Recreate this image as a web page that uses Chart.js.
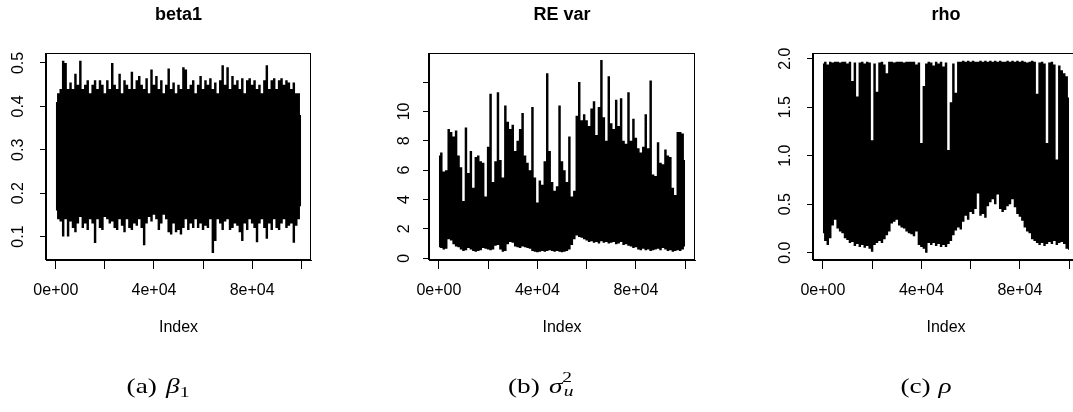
<!DOCTYPE html>
<html><head><meta charset="utf-8">
<script src="https://cdn.jsdelivr.net/npm/chart.js@4"></script>
<style>
html,body{margin:0;padding:0;background:#fff;overflow:hidden;width:1073px;height:412px;position:relative;}
canvas{position:absolute;top:0;}
.cap{position:absolute;top:376px;font-family:"Liberation Serif","Times New Roman",serif;font-size:21px;line-height:21px;color:#000;white-space:nowrap;transform:translateX(-50%) scaleX(1.3);}
.cap i{font-style:italic;}
.sub{font-size:15px;position:relative;top:4px;}
.ss{display:inline-block;position:relative;width:9px;height:1px;}
.ss span{position:absolute;left:0;font-size:15px;line-height:15px;}
</style></head><body>
<canvas id="c1" width="357" height="412" style="left:0px"></canvas>
<canvas id="c2" width="357" height="412" style="left:383px"></canvas>
<canvas id="c3" width="357" height="412" style="left:767px"></canvas>
<div class="cap" style="left:158px">(a)<span style="margin-left:7px"><i>β</i><span class="sub">1</span></span></div>
<div class="cap" style="left:541px">(b)<span style="margin-left:7px"><i>σ</i><span class="ss"><span style="top:-22px">2</span><span style="top:-8px;left:1px"><i>u</i></span></span></span></div>
<div class="cap" style="left:926px">(c)<span style="margin-left:6px"><i>ρ</i></span></div>
<script>
// iteration index of each envelope sample (every 1000 iterations)
const iterations = Array.from({length: 101}, (_, k) => k * 1000);

const xTickValues = [0, 20000, 40000, 60000, 80000, 100000];
const xTickLabels = ['0e+00', '', '4e+04', '', '8e+04', ''];

const titles = ['beta1', 'RE var', 'rho'];

// beta1: upper / lower envelope of trace
const beta1Hi = [0.41,0.43,0.44,0.505,0.50,0.44,0.455,0.44,0.475,0.45,
 0.505,0.44,0.45,0.46,0.43,0.45,0.46,0.44,0.46,0.45,
 0.43,0.46,0.44,0.50,0.45,0.44,0.475,0.43,0.46,0.45,
 0.44,0.48,0.44,0.46,0.47,0.45,0.44,0.465,0.43,0.485,
 0.45,0.47,0.44,0.46,0.43,0.45,0.487,0.44,0.455,0.43,
 0.45,0.44,0.49,0.485,0.44,0.45,0.46,0.43,0.45,0.47,
 0.44,0.46,0.45,0.465,0.44,0.455,0.43,0.46,0.495,0.45,
 0.49,0.44,0.47,0.45,0.46,0.44,0.465,0.43,0.46,0.465,
 0.45,0.46,0.44,0.45,0.43,0.46,0.495,0.44,0.46,0.465,
 0.44,0.46,0.465,0.45,0.46,0.455,0.44,0.455,0.43,0.43,
 0.38];
const beta1Lo = [0.16,0.14,0.135,0.10,0.14,0.10,0.135,0.12,0.11,0.13,
 0.145,0.12,0.13,0.115,0.14,0.13,0.085,0.14,0.12,0.115,
 0.145,0.14,0.13,0.135,0.12,0.115,0.14,0.125,0.11,0.14,
 0.12,0.115,0.13,0.125,0.14,0.12,0.08,0.13,0.145,0.135,
 0.15,0.14,0.115,0.13,0.15,0.14,0.11,0.105,0.13,0.11,
 0.115,0.105,0.12,0.14,0.115,0.13,0.12,0.14,0.12,0.13,
 0.115,0.125,0.12,0.14,0.062,0.09,0.14,0.13,0.115,0.135,
 0.14,0.115,0.12,0.13,0.125,0.11,0.09,0.13,0.115,0.14,
 0.13,0.12,0.087,0.13,0.14,0.12,0.095,0.13,0.115,0.14,
 0.12,0.115,0.13,0.14,0.12,0.125,0.13,0.086,0.125,0.14,
 0.17];
const beta1Ticks = [0.1, 0.2, 0.3, 0.4, 0.5];
const beta1Labels = ['0.1', '0.2', '0.3', '0.4', '0.5'];

// RE var
const revarHi = [7.0,7.2,5.9,6.0,8.8,8.6,8.3,8.7,7.0,6.2,
 3.9,8.9,5.8,7.3,4.8,6.9,7.0,6.6,6.5,4.2,
 7.6,11.2,5.2,6.6,11.3,6.7,5.5,10.4,9.3,8.8,
 9.1,7.3,8.0,8.8,9.9,7.0,6.5,6.0,10.3,5.5,
 3.8,5.3,5.0,6.6,12.6,7.3,5.2,4.6,4.9,10.4,
 6.6,6.0,5.2,8.3,4.2,4.6,9.7,12.0,9.4,9.8,
 9.4,9.0,10.2,10.7,8.4,10.3,13.5,9.6,8.0,12.4,
 9.2,8.8,10.8,9.0,10.9,8.0,7.8,11.3,8.0,9.5,
 8.2,7.5,7.2,7.6,9.8,7.5,12.1,5.7,5.6,7.9,
 6.5,6.4,7.4,7.0,6.9,4.8,4.3,8.6,8.6,8.5,
 6.7];
const revarLo = [0.75,0.7,0.6,0.65,1.3,1.2,0.95,0.8,0.75,0.6,
 0.5,0.55,0.7,0.6,0.5,0.45,0.5,0.55,0.7,0.65,
 0.6,0.55,0.6,0.85,0.9,0.6,0.45,0.5,0.95,1.1,
 1.05,0.8,0.75,0.7,0.8,0.75,0.7,0.65,0.5,0.45,
 0.4,0.45,0.5,0.45,0.5,0.55,0.5,0.45,0.5,0.45,
 0.4,0.45,0.5,0.6,0.9,1.3,1.55,1.45,1.4,1.3,
 1.2,1.1,1.15,1.05,1.1,1.0,1.15,1.05,1.1,1.0,
 1.05,1.1,0.95,1.0,1.1,0.9,0.95,0.85,0.8,0.7,
 0.75,0.6,0.55,0.65,0.55,0.6,0.5,0.55,0.6,0.65,
 0.55,0.7,0.6,0.5,0.55,0.45,0.5,0.55,0.5,0.6,
 0.8];
const revarTicks = [0, 2, 4, 6, 8, 10, 12];
const revarLabels = ['0', '2', '4', '6', '8', '10', ''];

// rho
const rhoHi = [1.95,1.97,1.94,1.97,1.96,1.97,1.97,1.96,1.97,1.97,
 1.95,1.97,1.77,1.96,1.61,1.96,1.97,1.95,1.97,1.96,
 1.16,1.95,1.66,1.96,1.97,1.94,1.85,1.97,1.97,1.96,
 1.97,1.97,1.97,1.96,1.97,1.97,1.97,1.97,1.94,1.96,
 1.13,1.72,1.95,1.97,1.96,1.93,1.97,1.95,1.97,1.92,
 1.96,1.06,1.55,1.95,1.65,1.97,1.97,1.98,1.97,1.98,
 1.97,1.98,1.97,1.97,1.98,1.97,1.98,1.97,1.98,1.97,
 1.98,1.97,1.98,1.97,1.97,1.98,1.97,1.98,1.97,1.98,
 1.97,1.98,1.97,1.96,1.97,1.98,1.97,1.64,1.96,1.97,
 1.95,1.13,1.96,1.97,1.94,0.96,1.93,1.88,1.85,1.82,
 1.6];
const rhoLo = [0.2,0.12,0.08,0.15,0.28,0.34,0.25,0.22,0.2,0.15,
 0.13,0.1,0.11,0.07,0.09,0.06,0.08,0.05,0.07,0.04,
 0.01,0.08,0.1,0.12,0.1,0.14,0.18,0.22,0.3,0.32,
 0.34,0.28,0.26,0.25,0.22,0.2,0.19,0.17,0.22,0.08,
 0.06,0.04,0.0,0.1,0.08,0.1,0.07,0.09,0.06,0.08,
 0.06,0.09,0.12,0.18,0.23,0.26,0.24,0.32,0.38,0.34,
 0.42,0.4,0.45,0.61,0.38,0.4,0.36,0.48,0.52,0.55,
 0.5,0.6,0.45,0.42,0.44,0.48,0.5,0.55,0.47,0.4,
 0.37,0.33,0.26,0.22,0.2,0.14,0.12,0.1,0.08,0.1,
 0.07,0.09,0.11,0.09,0.12,0.08,0.1,0.11,0.09,0.04,
 0.03];
const rhoTicks = [0, 0.5, 1, 1.5, 2];
const rhoLabels = ['0.0', '0.5', '1.0', '1.5', '2.0'];

const FONT = '"Liberation Sans", Arial, Helvetica, sans-serif';
Chart.defaults.font.family = FONT;
Chart.defaults.color = '#000';

const boxPlugin = {
  id: 'rbox',
  afterDatasetsDraw(chart) {
    const {ctx, chartArea: a} = chart;
    ctx.save();
    ctx.strokeStyle = '#000';
    ctx.lineWidth = 1;
    ctx.strokeRect(Math.round(a.left) - 0.5, Math.round(a.top) + 0.5,
      Math.round(a.right) - Math.round(a.left), Math.round(a.bottom) - Math.round(a.top) - 1);
    ctx.restore();
  }
};

function makePanel(id, title, hi, lo, yMin, yMax, yTicks, yLabels, padRight) {
  return new Chart(document.getElementById(id), {
    type: 'line',
    data: {
      datasets: [
        {data: iterations.map((x, i) => ({x: x, y: hi[i]})), borderColor: 'rgba(0,0,0,0)', backgroundColor: '#000',
         borderWidth: 1, pointRadius: 0, fill: '+1', stepped: 'middle'},
        {data: iterations.map((x, i) => ({x: x, y: lo[i]})), borderColor: 'rgba(0,0,0,0)', backgroundColor: '#000',
         borderWidth: 1, pointRadius: 0, fill: false, stepped: 'middle'}
      ]
    },
    options: {
      responsive: false, animation: false, devicePixelRatio: 1,
      layout: {padding: {left: 0, right: padRight, top: 0, bottom: 72}},
      plugins: {
        legend: {display: false}, tooltip: {enabled: false},
        title: {display: true, text: title, fullSize: false, color: '#000',
                font: {size: 18, weight: 'bold', family: FONT}, padding: {top: 4, bottom: 27.4}}
      },
      scales: {
        x: {
          type: 'linear', min: -4000, max: 104000,
          afterBuildTicks: s => { s.ticks = xTickValues.map(v => ({value: v})); },
          afterFit: s => { s.height = 80; },
          ticks: {autoSkip: false, maxRotation: 0, minRotation: 0, padding: 12, color: '#000',
                  font: {size: 16}, callback: (v, i) => xTickLabels[i]},
          grid: {drawOnChartArea: false, drawTicks: true, tickLength: 9, color: '#000', lineWidth: 1},
          border: {display: true, color: '#000', width: 1},
          title: {display: true, text: 'Index', color: '#000', font: {size: 16}, padding: {top: 0, bottom: 2.4}}
        },
        y: {
          type: 'linear', min: yMin, max: yMax,
          afterBuildTicks: s => { s.ticks = yTicks.map(v => ({value: v})); },
          afterFit: s => { s.width = 46; },
          ticks: {autoSkip: false, minRotation: 90, maxRotation: 90, crossAlign: 'center', padding: 10,
                  color: '#000', font: {size: 16}, callback: (v, i) => yLabels[i]},
          grid: {drawOnChartArea: false, drawTicks: true, tickLength: 6, color: '#000', lineWidth: 1},
          border: {display: true, color: '#000', width: 1}
        }
      }
    },
    plugins: [boxPlugin]
  });
}

makePanel('c1', titles[0], beta1Hi, beta1Lo, 0.046, 0.523, beta1Ticks, beta1Labels, 46);
makePanel('c2', titles[1], revarHi, revarLo, -0.12, 13.98, revarTicks, revarLabels, 45);
makePanel('c3', titles[2], rhoHi, rhoLo, -0.075, 2.059, rhoTicks, rhoLabels, 45);
</script>
</body></html>
